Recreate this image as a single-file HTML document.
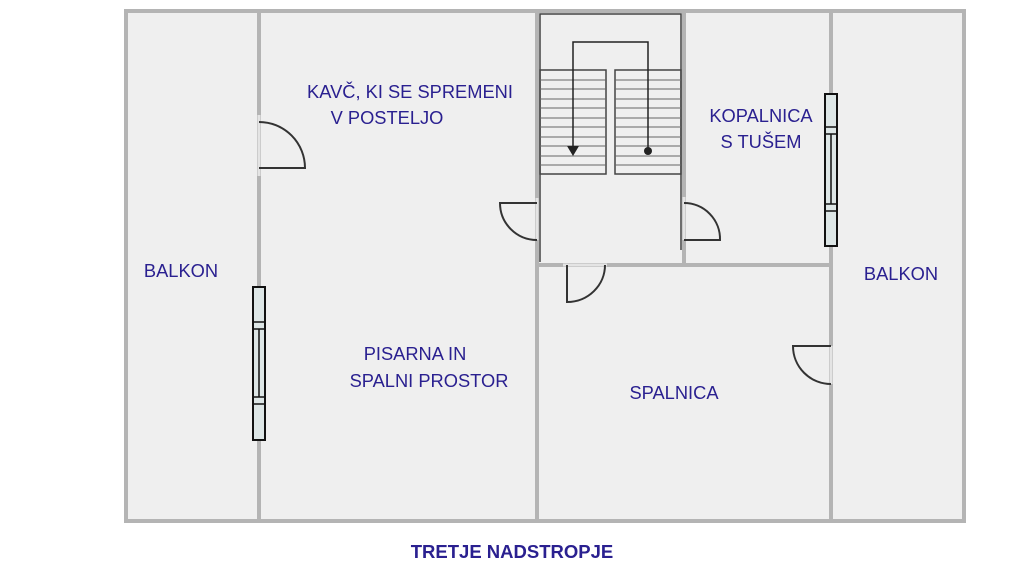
<!DOCTYPE html>
<html><head><style>
html,body{margin:0;padding:0;background:#fff;width:1024px;height:576px;overflow:hidden}
svg{display:block}
text{font-family:"Liberation Sans",Arial,sans-serif;fill:#2a2090;font-size:18.3px}
</style></head><body>
<svg width="1024" height="576" viewBox="0 0 1024 576" xmlns="http://www.w3.org/2000/svg">
<rect x="126" y="11" width="838" height="510" fill="#efefef" stroke="#b4b4b4" stroke-width="4"/>
<g stroke="#b4b4b4" stroke-width="4" fill="none">
<line x1="259" y1="11" x2="259" y2="521"/>
<line x1="537" y1="11" x2="537" y2="521"/>
<line x1="684" y1="11" x2="684" y2="265"/>
<line x1="831" y1="11" x2="831" y2="521"/>
<line x1="537" y1="265" x2="831" y2="265"/>
</g>
<g stroke="#e4e4e4" stroke-width="3">
<line x1="259" y1="115" x2="259" y2="176"/>
<line x1="537" y1="198" x2="537" y2="240"/>
<line x1="684" y1="197" x2="684" y2="240"/>
<line x1="563" y1="265" x2="607" y2="265"/>
<line x1="831" y1="346" x2="831" y2="384"/>
</g>
<g stroke="#444" stroke-width="1.5" fill="none">
<polyline points="540,262 540,14 681,14 681,250"/>
<rect x="540" y="70" width="66" height="104"/>
<rect x="615" y="70" width="66" height="104"/>
<g stroke="#666" stroke-width="1">
<line x1="540" y1="80" x2="606" y2="80"/><line x1="615" y1="80" x2="681" y2="80"/>
<line x1="540" y1="89" x2="606" y2="89"/><line x1="615" y1="89" x2="681" y2="89"/>
<line x1="540" y1="99" x2="606" y2="99"/><line x1="615" y1="99" x2="681" y2="99"/>
<line x1="540" y1="108" x2="606" y2="108"/><line x1="615" y1="108" x2="681" y2="108"/>
<line x1="540" y1="118" x2="606" y2="118"/><line x1="615" y1="118" x2="681" y2="118"/>
<line x1="540" y1="127" x2="606" y2="127"/><line x1="615" y1="127" x2="681" y2="127"/>
<line x1="540" y1="137" x2="606" y2="137"/><line x1="615" y1="137" x2="681" y2="137"/>
<line x1="540" y1="146" x2="606" y2="146"/><line x1="615" y1="146" x2="681" y2="146"/>
<line x1="540" y1="156" x2="606" y2="156"/><line x1="615" y1="156" x2="681" y2="156"/>
<line x1="540" y1="165" x2="606" y2="165"/><line x1="615" y1="165" x2="681" y2="165"/>
</g>
<polyline points="573,146 573,42 648,42 648,150" stroke="#222"/>
</g>
<polygon points="567,146 579,146 573,156" fill="#222"/>
<circle cx="648" cy="151" r="4" fill="#222"/>
<g stroke="#333" stroke-width="2" fill="none">
<path d="M259,122 A46,46 0 0 1 305,168 L259,168"/>
<path d="M537,203 L500,203 A37,37 0 0 0 537,240"/>
<path d="M684,203 A36,36 0 0 1 720,240 L684,240"/>
<path d="M605,265 A38,37 0 0 1 567,302 L567,265"/>
<path d="M831,346 L793,346 A38,38 0 0 0 831,384"/>
</g>
<g stroke="#111" stroke-width="2" fill="#dde6e6">
<rect x="253" y="287" width="12" height="153"/>
<rect x="825" y="94" width="12" height="152"/>
</g>
<g stroke="#111" stroke-width="1.5">
<line x1="253" y1="322" x2="265" y2="322"/><line x1="253" y1="329" x2="265" y2="329"/>
<line x1="253" y1="397" x2="265" y2="397"/><line x1="253" y1="404" x2="265" y2="404"/>
<line x1="259" y1="329" x2="259" y2="397"/>
<line x1="825" y1="127" x2="837" y2="127"/><line x1="825" y1="134" x2="837" y2="134"/>
<line x1="825" y1="204" x2="837" y2="204"/><line x1="825" y1="211" x2="837" y2="211"/>
<line x1="831" y1="134" x2="831" y2="204"/>
</g>
<text x="181" y="277" text-anchor="middle">BALKON</text>
<text x="901" y="280" text-anchor="middle">BALKON</text>
<text x="410" y="98" text-anchor="middle">KAVČ, KI SE SPREMENI</text>
<text x="387" y="124" text-anchor="middle">V POSTELJO</text>
<text x="761" y="122" text-anchor="middle">KOPALNICA</text>
<text x="761" y="148" text-anchor="middle">S TUŠEM</text>
<text x="415" y="360" text-anchor="middle">PISARNA IN</text>
<text x="429" y="387" text-anchor="middle">SPALNI PROSTOR</text>
<text x="674" y="399" text-anchor="middle">SPALNICA</text>
<text x="512" y="558" text-anchor="middle" style="font-weight:bold;font-size:18.5px">TRETJE NADSTROPJE</text>
</svg>
</body></html>
